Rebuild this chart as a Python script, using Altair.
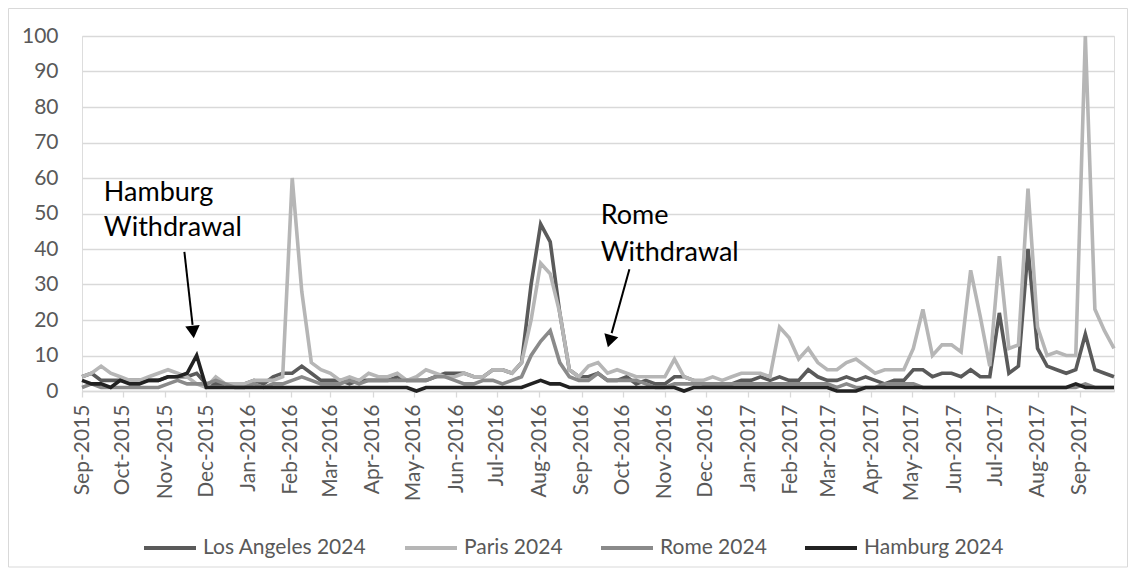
import altair as alt
import pandas as pd

# ---- data (weekly Google-Trends style index, weeks starting Sundays) ----
START_WEEK = "2015-09-06"
N_WEEKS = 109
cities = ["Los Angeles 2024", "Paris 2024", "Rome 2024", "Hamburg 2024"]
colors = ["#5a5a5a", "#b6b6b6", "#8a8a8a", "#222222"]

la = [4,5,3,3,3,3,3,3,3,4,4,4,5,
      2,2,2,2,2,3,2,4,5,5,7,5,3,
      3,3,2,3,3,3,3,4,3,3,3,4,5,5,5,4,4,6,6,5,8,30,47,42,22,6,4,
      4,5,3,3,4,2,3,2,2,4,4,3,2,2,2,2,3,3,4,3,4,3,3,6,4,3,3,4,3,
      4,3,2,3,3,6,6,4,5,5,4,6,4,4,22,5,7,40,12,7,6,5,6,16,6,5,4]
paris = [4,5,7,5,4,3,3,4,5,6,5,4,2,
         1,4,2,2,2,3,3,3,4,60,28,8,6,
         5,3,4,3,5,4,4,5,3,4,6,5,4,4,5,4,4,6,6,5,8,20,36,33,22,6,4,
         7,8,5,6,5,4,4,4,4,9,4,3,3,4,3,4,5,5,5,4,18,15,9,12,8,6,6,8,9,
         7,5,6,6,6,12,23,10,13,13,11,34,21,7,38,12,13,57,18,10,11,10,10,100,23,17,12]
rome = [1,2,1,1,1,1,1,1,1,2,3,2,2,
        2,3,2,1,1,2,1,2,2,3,4,3,2,
        2,2,3,2,3,3,3,3,3,3,3,4,4,3,2,2,3,3,2,3,4,10,14,17,8,4,3,
        3,5,3,3,3,3,2,1,1,2,2,2,2,2,2,2,2,2,2,2,2,2,2,2,2,2,1,2,1,
        1,1,2,2,2,2,1,1,1,1,1,1,1,1,1,1,1,1,1,1,1,1,1,2,1,1,1]
hamburg = [3,2,2,1,3,2,2,3,3,4,4,5,10,
           1,1,1,1,1,1,1,1,1,1,1,1,1,
           1,1,1,1,1,1,1,1,1,0,1,1,1,1,1,1,1,1,1,1,1,2,3,2,2,1,1,
           1,1,1,1,1,1,1,1,1,1,0,1,1,1,1,1,1,1,1,1,1,1,1,1,1,1,0,0,0,
           1,1,1,1,1,1,1,1,1,1,1,1,1,1,1,1,1,1,1,1,1,1,2,1,1,1,1]

tick_months = ["2015-09-06","2015-10-06","2015-11-06","2015-12-06","2016-01-06","2016-02-06",
               "2016-03-06","2016-04-06","2016-05-06","2016-06-06","2016-07-06","2016-08-06",
               "2016-09-06","2016-10-06","2016-11-06","2016-12-06","2017-01-06","2017-02-06",
               "2017-03-06","2017-04-06","2017-05-06","2017-06-06","2017-07-06","2017-08-06",
               "2017-09-06"]
y_ticks = [0,10,20,30,40,50,60,70,80,90,100]

# annotations (in data coordinates)
ann_text = ["Hamburg", "Withdrawal", "Rome", "Withdrawal"]
ann_date = ["2015-09-22", "2015-09-22", "2016-09-20", "2016-09-20"]
ann_val = [55.8, 45.9, 49.2, 39.0]

arrow_start_date = ["2015-11-20", "2016-10-11"]
arrow_start_val = [39.2, 34.3]
arrow_end_date = ["2015-11-26", "2016-09-28"]
arrow_end_val = [18.6, 16.3]
head_date = ["2015-11-26T10:00:00Z", "2016-09-26T12:00:00Z"]
head_val = [16.6, 14.0]
head_angle = [354, 16]

FONT = "Lato"
LABEL_COLOR = "#595959"

# ---- build tables ----
dates = pd.date_range(START_WEEK, periods=N_WEEKS, freq="7D").strftime("%Y-%m-%d").tolist()
rows = []
for city, series in zip(cities, [la, paris, rome, hamburg]):
    for d, v in zip(dates, series):
        rows.append({"date": d, "value": v, "city": city})
df = pd.DataFrame(rows)

ann_df = pd.DataFrame({"date": ann_date, "value": ann_val, "text": ann_text})
arrow_df = pd.DataFrame({"d1": arrow_start_date, "v1": arrow_start_val,
                         "d2": arrow_end_date, "v2": arrow_end_val})
head_df = pd.DataFrame({"date": head_date, "value": head_val, "angle": head_angle})


def dt(s):
    y, m, d = s.split("-")
    return alt.DateTime(year=int(y), month=int(m), date=int(d), utc=True)


x_scale = alt.Scale(type="utc", domain=[dt("2015-09-06"), dt("2017-10-01")])
y_scale = alt.Scale(domain=[0, 100])

x_axis = alt.Axis(values=[dt(s) for s in tick_months],
                  labelExpr="utcFormat(datum.value, '%b-%Y')",
                  labelAngle=-90, labelFont=FONT, labelFontSize=21, labelColor=LABEL_COLOR,
                  labelPadding=7, domainColor="#d9d9d9", domainWidth=1.3, tickColor="#d9d9d9",
                  tickSize=6, tickWidth=1.3, grid=False, title=None, labelOverlap=False)
y_axis = alt.Axis(values=y_ticks, labelFont=FONT, labelFontSize=21, labelColor=LABEL_COLOR,
                  labelPadding=24, domain=False, ticks=False, gridColor="#d9d9d9",
                  gridWidth=1.3, title=None, labelOverlap=False)

X = lambda f: alt.X(f, scale=x_scale, axis=x_axis)
Y = lambda f: alt.Y(f, scale=y_scale, axis=y_axis)

lines = alt.Chart(df).mark_line(strokeWidth=3.6, strokeJoin="miter").encode(
    x=X("date:T"),
    y=Y("value:Q"),
    color=alt.Color("city:N", scale=alt.Scale(domain=cities, range=colors),
                    legend=alt.Legend(orient="none", legendX=60, legendY=484,
                                      direction="horizontal", title=None,
                                      symbolType="stroke", symbolSize=2704,
                                      symbolStrokeWidth=4, labelFont=FONT,
                                      labelFontSize=21, labelColor=LABEL_COLOR,
                                      labelLimit=300, columnPadding=30, labelOffset=5)),
    order=alt.Order("date:T"),
)

border = alt.Chart(pd.DataFrame({"k": [0]})).mark_rect(
    fill=None, stroke="#d9d9d9", strokeWidth=1, clip=False
).encode(x=alt.value(-73.5), x2=alt.value(1045.5), y=alt.value(-27.5), y2=alt.value(531))

texts = alt.Chart(ann_df).mark_text(align="left", baseline="middle", font=FONT,
                                    fontSize=27, color="#000000").encode(
    x=X("date:T"), y=Y("value:Q"), text="text:N")

shafts = alt.Chart(arrow_df).mark_rule(color="#000000", strokeWidth=2).encode(
    x=X("d1:T"), y=Y("v1:Q"), x2="d2:T", y2="v2:Q")

heads = alt.Chart(head_df).mark_point(shape="triangle-down", filled=True, color="#000000",
                                      opacity=1, size=210).encode(
    x=X("date:T"), y=Y("value:Q"),
    angle=alt.Angle("angle:Q", scale=None))

chart = alt.layer(border, lines, texts, shafts, heads).properties(
    width=1032, height=355,
    autosize=alt.AutoSizeParams(type="none"),
    padding={"left": 74, "top": 28, "right": 14, "bottom": 177},
).configure_view(stroke=None).configure(background="white")

chart.save("out.html", embed_options={"renderer": "svg", "actions": False})
